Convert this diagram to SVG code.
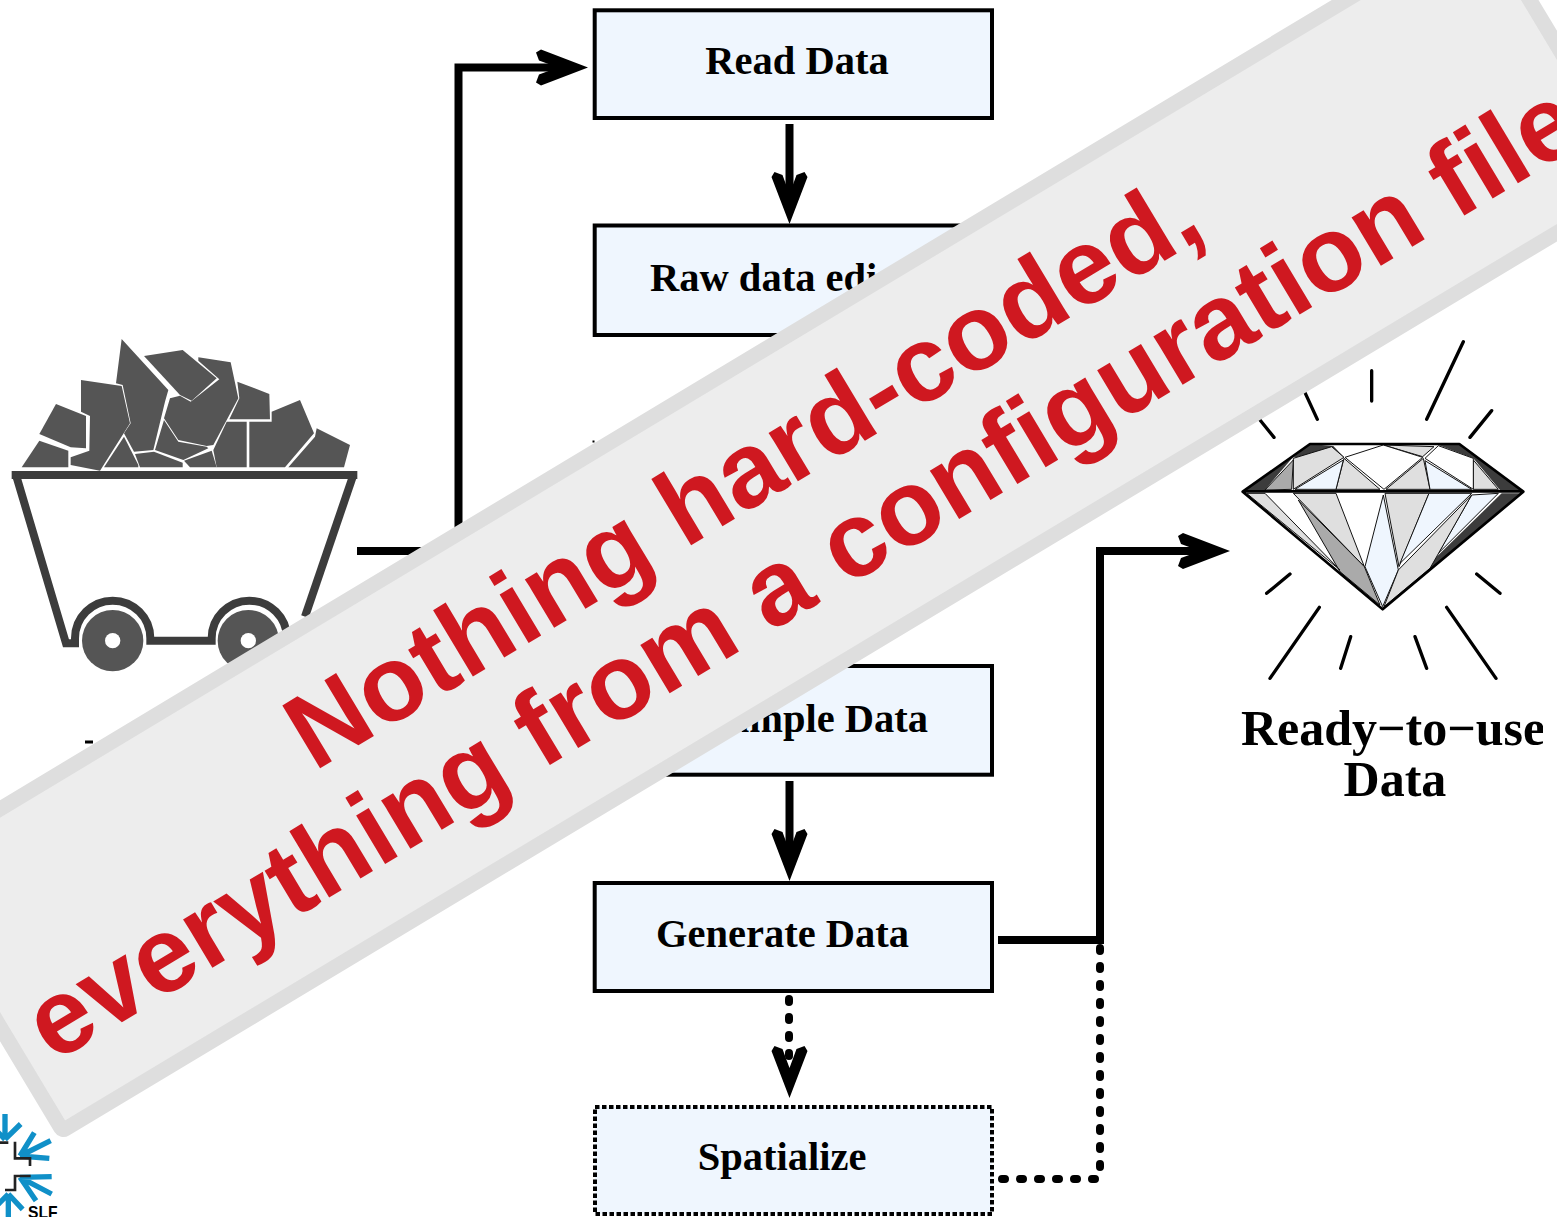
<svg xmlns="http://www.w3.org/2000/svg" width="1557" height="1217" viewBox="0 0 1557 1217">
<style>
.box{fill:#eff6fe;stroke:#000;stroke-width:4}
.dotbox{fill:#eff6fe;stroke:#000;stroke-width:4;stroke-dasharray:4.5 2.5}
.lbl{font-family:"Liberation Serif","Times New Roman",serif;font-weight:bold;font-size:40.5px;fill:#000}
.big{font-family:"Liberation Serif","Times New Roman",serif;font-weight:bold;font-size:50px;fill:#000}
.ln{fill:none;stroke:#000;stroke-width:8}
.dot{fill:none;stroke:#000;stroke-width:8;stroke-dasharray:3 15;stroke-linecap:round}
.rock{fill:#555}
.cart{fill:none;stroke:#3c3c3c;stroke-width:24}
.ray{stroke:#000;stroke-width:10;stroke-linecap:round;fill:none}
.fac{stroke:#111;stroke-width:3;stroke-linejoin:round}
.g1{fill:#dfdfdf}.g2{fill:#aaa}.g3{fill:#3c3c3c}.ice{fill:#eff6fe}
.snow{fill:none;stroke:#1090c8;stroke-width:16}
.stair{fill:none;stroke:#222;stroke-width:8}
.ban{font-family:"Liberation Sans",Arial,sans-serif;font-weight:bold;font-size:106.700px;fill:#cf1820;text-anchor:middle}
</style>
<defs>
<clipPath id="clipReady"><rect x="1200" y="690" width="343" height="130"/></clipPath>
<polygon id="ahD" points="0,0 -18,-47 -15,-52 -7,-49 0,-30 7,-49 15,-52 18,-47" />
<polygon id="ahR" points="0,0 -47,-18 -52,-15 -49,-7 -30,0 -49,7 -52,15 -47,18" />
</defs>

<g id="connectors">
<path class="ln" d="M357,551H458.500V67.500H560"/>
<use href="#ahR" x="588" y="67.500"/>
<path class="ln" d="M789.500,124V200"/>
<use href="#ahD" x="789.500" y="224"/>
<path class="ln" d="M789.500,781V857"/>
<use href="#ahD" x="789.500" y="881"/>
<path class="ln" d="M998,940H1100V551H1200"/>
<use href="#ahR" x="1230" y="551"/>
<path class="dot" d="M789,999V1060"/>
<use href="#ahD" x="789.500" y="1098"/>
<path class="dot" d="M1100,948V1170"/>
<path class="dot" d="M1002,1179H1096"/>
</g>

<g id="node-read"><rect class="box" x="594.700" y="10.300" width="397.300" height="107.700"/><text class="lbl" x="797" y="74" text-anchor="middle">Read Data</text></g>
<g id="node-raw"><rect class="box" x="594.700" y="225.500" width="397.300" height="109.500"/><text class="lbl" x="650" y="291">Raw data edi</text></g>
<g id="node-resample"><rect class="box" x="594.700" y="666" width="397.300" height="108.700"/><text class="lbl" x="928" y="731.500" text-anchor="end">ample Data</text></g>
<g id="node-generate"><rect class="box" x="594.700" y="883" width="397.300" height="108"/><text class="lbl" x="782.500" y="947" text-anchor="middle">Generate Data</text></g>
<g id="node-spatialize"><rect class="dotbox" x="595" y="1107" width="397" height="107"/><text class="lbl" x="782" y="1170" text-anchor="middle">Spatialize</text></g>

<g id="node-cart" transform="translate(0,330) scale(0.33333)">
<polygon class="rock" points="65,412 118,332 205,362 205,412"/>
<polygon class="rock" points="118,312 168,222 258,258 258,355 212,352"/>
<polygon class="rock" points="243,150 365,168 390,280 300,422 212,405 212,382 268,362 270,258 243,245"/>
<polygon class="rock" points="365,27 505,180 495,215 460,360 402,365 372,310 392,280 368,165 348,160"/>
<polygon class="rock" points="432,78 548,60 650,145 575,212 540,195"/>
<polygon class="rock" points="595,82 692,97 715,205 640,345 620,348 535,330 492,265 510,205 540,197 572,215 658,148 595,92"/>
<polygon class="rock" points="712,155 808,192 810,268 688,268 718,205"/>
<polygon class="rock" points="680,275 740,275 740,412 650,412 640,360"/>
<polygon class="rock" points="748,275 815,275 815,245 900,210 942,310 855,412 748,412"/>
<polygon class="rock" points="950,295 1050,345 1032,412 865,412 945,320"/>
<polygon class="rock" points="312,412 372,320 415,405 415,412"/>
<polygon class="rock" points="405,372 462,365 548,398 548,412 420,412"/>
<polygon class="rock" points="492,270 535,335 620,350 625,355 550,390 465,360"/>
<polygon class="rock" points="552,392 635,362 650,412 570,412"/>
<path class="cart" d="M35,435H1072"/>
<path class="cart" d="M48,435L198,940H225V925A113,113 0 0 1 451,925V932H635V925A113,113 0 0 1 861,925"/>
<path class="cart" d="M1060,435L915,860"/>
<circle class="rock" cx="338" cy="932" r="92"/><circle cx="338" cy="932" r="23" fill="#fff"/>
<circle class="rock" cx="745" cy="932" r="92"/><circle cx="745" cy="932" r="23" fill="#fff"/>
</g>

<g id="node-diamond" transform="translate(1230,330) scale(0.33333)">
<polygon points="240,342 688,342 880,485 458,838 38,485" fill="#fff"/>
<polygon class="g3" points="240,342 310,348 342,382 190,382"/>
<polygon class="g3" points="40,485 190,380 105,480"/>
<polygon class="g3" points="688,342 880,485 810,480 730,385 625,345"/>
<polygon class="g3" points="875,490 815,490 600,700 590,730"/>
<polygon class="g1 fac" points="190,385 305,350 342,382 190,478"/>
<polygon class="g2 fac" points="105,480 190,390 185,478"/>
<polygon class="g1 fac" points="342,385 318,478 450,478"/>
<polygon class="g1 fac" points="580,385 600,478 468,478"/>
<polygon class="g1 fac" points="730,390 805,478 730,478"/>
<polygon class="g1 fac" points="460,345 612,350 578,380"/>
<polygon class="ice fac" points="195,478 340,390 318,478"/>
<polygon class="ice fac" points="585,392 725,478 600,478"/>
<polygon points="345,382 460,345 578,382 462,478" fill="#fff" class="fac"/>
<polygon points="625,347 730,385 730,478 585,385" fill="#fff" class="fac"/>
<polygon class="g1 fac" points="190,490 318,490 403,710"/>
<polygon class="g2 fac" points="205,510 403,710 450,825 330,725"/>
<polygon class="g1 fac" points="465,490 597,490 507,710"/>
<polygon class="ice fac" points="460,495 505,720 458,830 405,710"/>
<polygon class="ice fac" points="597,490 725,490 510,700"/>
<polygon class="ice fac" points="725,495 805,490 625,670"/>
<polygon class="g1 fac" points="725,495 600,715 462,830 505,720"/>
<polygon class="g1 fac" points="50,490 105,490 330,720"/>
<path fill="none" stroke="#000" stroke-width="8" stroke-linejoin="round" d="M240,342H688L880,485L458,838L38,485ZM38,484H880"/>
<path class="ray" d="M700,35L590,268M785,242L720,322M425,122V213M225,188L262,268M90,270L132,322M180,732L110,790M268,832L120,1045M362,920L332,1015M555,920L590,1015M650,832L798,1045M740,732L810,790"/>
</g>
<g id="node-ready">
<g clip-path="url(#clipReady)"><text class="big" x="1241" y="745">Ready−to−use</text></g>
<text class="big" x="1395" y="796" text-anchor="middle">Data</text>
</g>

<g id="node-logo" transform="translate(0,1100) scale(0.33333)">
<path class="snow" d="M15,42V112M62,72L15,118M-30,72L15,118"/>
<path class="snow" d="M60,168L103,98M60,168L152,122M60,168L148,175"/>
<path class="snow" d="M60,232L155,230M60,232L108,302M60,232L155,282"/>
<path class="snow" d="M25,282V355M25,282L68,328M25,282L-20,328"/>
<path class="stair" d="M0,128H25M45,125V175H90V198M92,228H45V270H15"/>
<text x="84" y="354" font-family="'Liberation Sans',Arial,sans-serif" font-weight="bold" font-size="47">SLF</text>
</g>

<g id="fragments"><rect x="85" y="740.500" width="8" height="3" fill="#000"/><rect x="592.500" y="440.500" width="2" height="2" fill="#000"/></g>

<g id="banner" transform="translate(62.500,1130.700) rotate(-31)">
<rect x="0" y="-308" width="1840" height="308" rx="3" fill="#ededed" stroke="#dedede" stroke-width="15"/>
<text class="ban" x="922" y="-178">Nothing hard-coded,</text>
<text class="ban" x="922" y="-62.500">everything from a configuration file</text>
</g>
</svg>
